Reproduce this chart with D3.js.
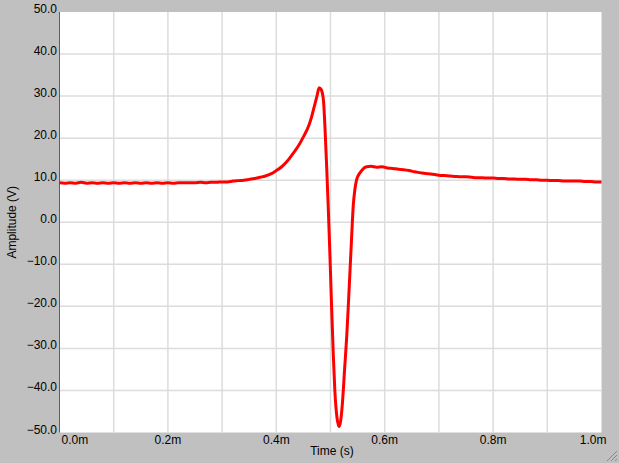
<!DOCTYPE html>
<html lang="en">
  <head>
    <meta charset="utf-8" />
    <title>Amplitude vs Time</title>
    <script src="https://cdn.jsdelivr.net/npm/d3@7"></script>
    <style>
      html, body { margin: 0; padding: 0; background: #c0c0c0; }
      svg text { font-family: "Liberation Sans", Arial, sans-serif; font-size: 12px; fill: #000; }
    </style>
  </head>
  <body>
    <div id="chart"></div>
    <script type="text/javascript">
      // time in ms, amplitude in volts
      const timeMs = [
        0.00, 0.01, 0.02, 0.03, 0.04, 0.05, 0.06, 0.07, 0.08, 0.09,
        0.10, 0.11, 0.12, 0.13, 0.14, 0.15, 0.16, 0.17, 0.18, 0.19,
        0.20, 0.21, 0.22, 0.23, 0.24, 0.25, 0.26, 0.27, 0.28, 0.29,
        0.30, 0.31, 0.32, 0.33, 0.34, 0.35, 0.36, 0.37, 0.38, 0.39,
        0.40, 0.41, 0.42, 0.43, 0.44, 0.45, 0.46, 0.465, 0.47, 0.475,
        0.479, 0.483, 0.487, 0.490, 0.493, 0.496, 0.499, 0.502, 0.505, 0.508,
        0.512, 0.516, 0.519, 0.522, 0.526, 0.530, 0.533, 0.536, 0.539, 0.542,
        0.545, 0.548, 0.552, 0.557, 0.562, 0.567, 0.575, 0.585, 0.595, 0.605,
        0.615, 0.625, 0.635, 0.645, 0.655, 0.665, 0.675, 0.685, 0.70, 0.71,
        0.72, 0.73, 0.74, 0.75, 0.76, 0.77, 0.78, 0.79, 0.80, 0.81,
        0.82, 0.83, 0.84, 0.85, 0.86, 0.87, 0.88, 0.89, 0.90, 0.91,
        0.92, 0.93, 0.94, 0.95, 0.96, 0.97, 0.98, 0.99, 1.00
      ];
      const amplitude = [
        9.4, 9.3, 9.4, 9.3, 9.5, 9.3, 9.4, 9.3, 9.4, 9.3,
        9.4, 9.3, 9.4, 9.3, 9.4, 9.3, 9.4, 9.3, 9.4, 9.3,
        9.4, 9.3, 9.4, 9.4, 9.4, 9.4, 9.5, 9.4, 9.5, 9.5,
        9.6, 9.6, 9.8, 9.9, 10.0, 10.2, 10.4, 10.7, 11.0, 11.5,
        12.3, 13.2, 14.5, 16.2, 18.0, 20.3, 23.0, 25.0, 27.5, 30.0,
        32.0, 31.5, 29.0, 22.0, 13.0, 3.0, -8.0, -20.0, -31.0, -40.0,
        -46.5, -48.6, -47.0, -43.0, -35.0, -27.0, -19.5, -11.5, -3.5, 4.0,
        7.8, 10.0, 11.3, 12.2, 12.9, 13.2, 13.3, 13.1, 13.2, 12.9,
        12.8, 12.6, 12.5, 12.3, 12.0, 11.8, 11.6, 11.5, 11.2, 11.1,
        11.0, 10.9, 10.8, 10.8, 10.7, 10.6, 10.6, 10.5, 10.5, 10.4,
        10.4, 10.3, 10.3, 10.2, 10.2, 10.1, 10.1, 10.0, 10.0, 9.9,
        9.9, 9.8, 9.8, 9.8, 9.8, 9.7, 9.7, 9.6, 9.6
      ];
      const yTicks = [50, 40, 30, 20, 10, 0, -10, -20, -30, -40, -50];
      const xGrid = [0, 0.1, 0.2, 0.3, 0.4, 0.5, 0.6, 0.7, 0.8, 0.9, 1.0];
      const xLabels = [0, 0.2, 0.4, 0.6, 0.8, 1.0];

      const width = 619, height = 463;
      const margin = { top: 12, right: 17.5, bottom: 30.5, left: 59.5 };

      const svg = d3.select("#chart").append("svg")
        .attr("width", width)
        .attr("height", height);

      svg.append("rect")
        .attr("width", width).attr("height", height)
        .attr("fill", "#c0c0c0");

      const x = d3.scaleLinear().domain([0, 1]).range([margin.left, width - margin.right]);
      const y = d3.scaleLinear().domain([-50, 50]).range([height - margin.bottom, margin.top]);

      // plot background
      svg.append("rect")
        .attr("x", x(0)).attr("y", y(50))
        .attr("width", x(1) - x(0)).attr("height", y(-50) - y(50))
        .attr("fill", "#fff");

      // grid
      svg.append("g").selectAll("line").data(xGrid.slice(1, -1)).join("line")
        .attr("x1", d => x(d)).attr("x2", d => x(d))
        .attr("y1", y(50)).attr("y2", y(-50))
        .attr("stroke", "#dcdcdc").attr("stroke-width", 1.5);
      svg.append("g").selectAll("line").data(yTicks.slice(1, -1)).join("line")
        .attr("x1", x(0)).attr("x2", x(1))
        .attr("y1", d => y(d)).attr("y2", d => y(d))
        .attr("stroke", "#dcdcdc").attr("stroke-width", 1.5);

      // left axis line
      svg.append("line")
        .attr("x1", x(0)).attr("x2", x(0))
        .attr("y1", y(50)).attr("y2", y(-50))
        .attr("stroke", "#4a4aff").attr("stroke-width", 1);

      // y tick labels
      svg.append("g").selectAll("text").data(yTicks).join("text")
        .attr("x", x(0) - 2.5)
        .attr("y", d => y(d) + 1)
        .attr("text-anchor", "end")
        .text(d => d3.format(".1f")(d));

      // x tick labels
      const last = xLabels.length - 1;
      svg.append("g").selectAll("text").data(xLabels).join("text")
        .attr("x", (d, i) => i === 0 ? x(d) + 2 : i === last ? x(d) + 5 : x(d))
        .attr("y", y(-50) + 11)
        .attr("text-anchor", (d, i) => i === 0 ? "start" : i === last ? "end" : "middle")
        .text(d => d3.format(".1f")(d) + "m");

      // axis titles
      svg.append("text")
        .attr("x", 332).attr("y", 455)
        .attr("text-anchor", "middle")
        .text("Time (s)");
      svg.append("text")
        .attr("transform", `translate(16,${(y(50) + y(-50)) / 2}) rotate(-90)`)
        .attr("text-anchor", "middle")
        .text("Amplitude (V)");

      // trace
      const line = d3.line()
        .x((d, i) => x(timeMs[i]))
        .y(d => y(d))
        .curve(d3.curveMonotoneX);
      svg.append("path")
        .datum(amplitude)
        .attr("d", line)
        .attr("fill", "none")
        .attr("stroke", "#ff0000")
        .attr("stroke-width", 3)
        .attr("stroke-linejoin", "round");

      // resize grip
      svg.append("g").selectAll("line").data([0, 4, 8]).join("line")
        .attr("x1", d => width - 2 - (10 - d)).attr("y1", height - 2)
        .attr("x2", width - 2).attr("y2", d => height - 2 - (10 - d))
        .attr("stroke", "#888").attr("stroke-width", 1);
    </script>
  </body>
</html>
